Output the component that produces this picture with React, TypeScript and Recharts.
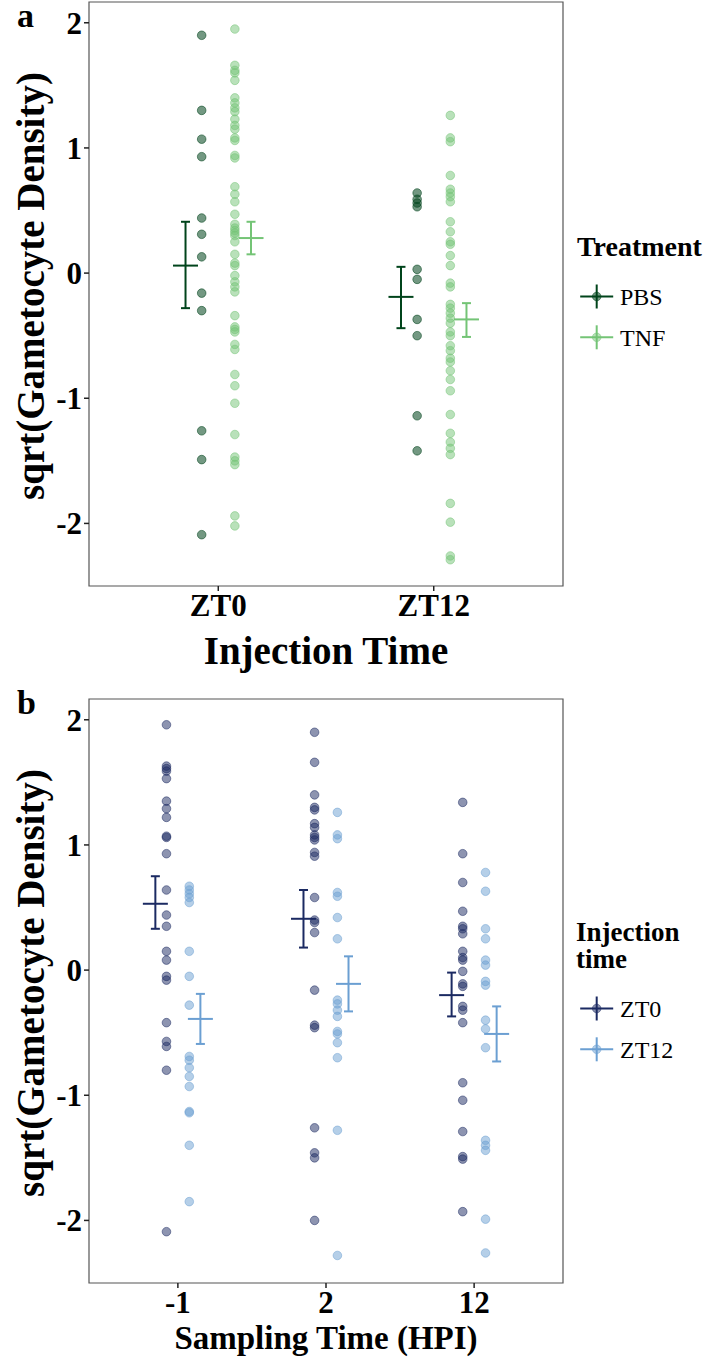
import React from 'react';
import { ScatterChart, Scatter, XAxis, YAxis, ErrorBar, ReferenceArea } from 'recharts';

const SERIF = "'Liberation Serif', 'Times New Roman', serif";

// panel a: injection time x treatment
const injectionTimes = ['ZT0', 'ZT12'];
const pbsPoints = [
  [1.9, 1.3, 1.07, 0.93, 0.44, 0.31, 0.13, -0.16, -0.3, -1.26, -1.49, -2.09],
  [0.64, 0.59, 0.56, 0.53, 0.03, -0.05, -0.37, -0.5, -1.14, -1.42],
];
const tnfPoints = [
  [1.95, 1.66, 1.62, 1.6, 1.54, 1.4, 1.36, 1.32, 1.29, 1.23, 1.18, 1.15, 1.08, 1.06, 0.94, 0.92,
    0.69, 0.63, 0.57, 0.47, 0.39, 0.36, 0.34, 0.32, 0.3, 0.25, 0.15, 0.08, 0.06, -0.02, -0.07,
    -0.11, -0.15, -0.34, -0.43, -0.45, -0.47, -0.57, -0.61, -0.81, -0.9, -1.04, -1.29, -1.47,
    -1.5, -1.53, -1.94, -2.02],
  [1.26, 1.08, 1.05, 0.78, 0.67, 0.64, 0.61, 0.57, 0.41, 0.33, 0.25, 0.23, 0.14, 0.06, -0.08,
    -0.11, -0.25, -0.28, -0.32, -0.36, -0.4, -0.47, -0.5, -0.58, -0.62, -0.68, -0.71, -0.78,
    -0.85, -0.94, -1.13, -1.28, -1.35, -1.4, -1.45, -1.84, -1.99, -2.26, -2.29],
];
const pbsMean = [0.06, -0.19];
const pbsLow = [-0.28, -0.44];
const pbsHigh = [0.41, 0.05];
const tnfMean = [0.28, -0.37];
const tnfLow = [0.15, -0.51];
const tnfHigh = [0.41, -0.24];

// panel b: sampling time x injection time
const samplingTimes = ['-1', '2', '12'];
const zt0Points = [
  [1.96, 1.63, 1.61, 1.59, 1.53, 1.35, 1.29, 1.22, 1.07, 1.06, 0.93, 0.64, 0.44, 0.35, 0.15,
    0.08, -0.05, -0.08, -0.42, -0.57, -0.61, -0.8, -2.09],
  [1.9, 1.66, 1.4, 1.3, 1.28, 1.17, 1.14, 1.08, 1.06, 1.04, 0.94, 0.91, 0.58, 0.4, 0.38, 0.3,
    -0.16, -0.44, -0.46, -1.26, -1.46, -1.5, -2.0],
  [1.34, 0.93, 0.7, 0.47, 0.35, 0.33, 0.29, 0.15, 0.1, 0.08, -0.01, -0.11, -0.13, -0.29, -0.32,
    -0.42, -0.9, -1.04, -1.29, -1.49, -1.51, -1.93],
];
const zt12Points = [
  [0.67, 0.64, 0.61, 0.58, 0.54, 0.15, -0.05, -0.28, -0.69, -0.72, -0.78, -0.85, -0.93, -1.13,
    -1.14, -1.4, -1.85],
  [1.26, 1.08, 1.05, 0.62, 0.59, 0.42, 0.25, -0.24, -0.27, -0.32, -0.37, -0.49, -0.51, -0.58,
    -0.7, -1.28, -2.28],
  [0.78, 0.63, 0.33, 0.25, 0.08, 0.04, -0.09, -0.12, -0.4, -0.47, -0.62, -1.36, -1.4, -1.44,
    -1.99, -2.26],
];
const zt0Mean = [0.53, 0.41, -0.2];
const zt0Low = [0.33, 0.18, -0.37];
const zt0High = [0.75, 0.64, -0.02];
const zt12Mean = [-0.39, -0.11, -0.51];
const zt12Low = [-0.59, -0.33, -0.73];
const zt12High = [-0.19, 0.11, -0.29];

const yTicks = [-2, -1, 0, 1, 2];
const Y_MIN = -2.5;
const Y_MAX = 2.166;
const POINT_SHIFT = 0.077;
const MEAN_SHIFT = 0.152;

const PBS = '#00441b';
const TNF = '#74c476';
const ZT0 = '#1b2a62';
const ZT12 = '#6b9fd2';

const toPoints = (groups: number[][], shift: number) =>
  groups.flatMap((vals, i) => vals.map((v) => ({ x: i + 1 + shift, y: v })));

const toMeans = (mean: number[], lo: number[], hi: number[], shift: number) =>
  mean.map((m, i) => ({ x: i + 1 + shift, y: m, err: [m - lo[i], hi[i] - m] }));

const dot = (color: string, alpha: number) => (p: any) => (
  <circle cx={p.cx} cy={p.cy} r={4.3} fill={color} fillOpacity={alpha} stroke={color} strokeOpacity={alpha} strokeWidth={1} />
);

const meanMark = (color: string) => (p: any) => (
  <line x1={p.cx - 12.5} x2={p.cx + 12.5} y1={p.cy} y2={p.cy} stroke={color} strokeWidth={2} />
);

const tickStyle = { fontSize: 31, fontWeight: 'bold', fill: '#000', fontFamily: SERIF };

interface PanelProps {
  cats: string[];
  groups: { points: number[][]; mean: number[]; lo: number[]; hi: number[]; color: string; alpha: number }[];
  xTitle: string;
  xTitleSize: number;
  height: number;
  top: number;
  xAxisHeight: number;
  xTitleOffset: number;
}

const Panel = ({ cats, groups, xTitle, xTitleSize, height, top, xAxisHeight, xTitleOffset }: PanelProps) => {
  const xMax = cats.length + 0.6;
  return (
    <ScatterChart width={708} height={height} margin={{ top, right: 145, bottom: 0, left: 0 }}>
      <ReferenceArea x1={0.4} x2={xMax} y1={Y_MIN} y2={Y_MAX} fill="none" stroke="#555" strokeWidth={1.2} ifOverflow="visible" />
      <XAxis
        type="number"
        dataKey="x"
        domain={[0.4, xMax]}
        ticks={cats.map((_, i) => i + 1)}
        tickFormatter={(v: number) => cats[v - 1]}
        allowDataOverflow
        axisLine={false}
        tickLine={{ stroke: '#222', strokeWidth: 1.5 }}
        tickSize={5}
        tickMargin={3}
        height={xAxisHeight}
        tick={tickStyle}
        label={(p: any) => (
          <text
            x={p.viewBox.x + p.viewBox.width / 2}
            y={p.viewBox.y + xTitleOffset}
            textAnchor="middle"
            style={{ fontSize: xTitleSize, fontWeight: 'bold', fontFamily: SERIF, fill: '#000' }}
          >
            {xTitle}
          </text>
        )}
      />
      <YAxis
        type="number"
        dataKey="y"
        domain={[Y_MIN, Y_MAX]}
        ticks={yTicks}
        allowDataOverflow
        axisLine={false}
        tickLine={{ stroke: '#222', strokeWidth: 1.5 }}
        tickSize={5}
        tickMargin={2}
        width={89}
        tick={tickStyle}
        label={(p: any) => {
          const cy = p.viewBox.y + p.viewBox.height / 2 - 8;
          return (
            <text
              x={30}
              y={cy}
              transform={`rotate(-90, 30, ${cy})`}
              textAnchor="middle"
              dominantBaseline="central"
              style={{ fontSize: 39, fontWeight: 'bold', fontFamily: SERIF, fill: '#000' }}
            >
              sqrt(Gametocyte Density)
            </text>
          );
        }}
      />
      {groups.map((g, k) => (
        <Scatter
          key={`pts-${k}`}
          data={toPoints(g.points, k === 0 ? -POINT_SHIFT : POINT_SHIFT)}
          shape={dot(g.color, g.alpha)}
          isAnimationActive={false}
        />
      ))}
      {groups.map((g, k) => (
        <Scatter
          key={`mean-${k}`}
          data={toMeans(g.mean, g.lo, g.hi, k === 0 ? -MEAN_SHIFT : MEAN_SHIFT)}
          shape={meanMark(g.color)}
          isAnimationActive={false}
        >
          <ErrorBar dataKey="err" direction="y" width={4.5} stroke={g.color} strokeWidth={2} isAnimationActive={false} />
        </Scatter>
      ))}
    </ScatterChart>
  );
};

const LegendKey = ({ x, y, color, alpha }: { x: number; y: number; color: string; alpha: number }) => (
  <g>
    <line x1={x - 16.5} x2={x + 16.5} y1={y} y2={y} stroke={color} strokeWidth={2} />
    <line x1={x} x2={x} y1={y - 12} y2={y + 12} stroke={color} strokeWidth={2} />
    <circle cx={x} cy={y} r={4.3} fill={color} fillOpacity={alpha} stroke={color} strokeOpacity={alpha} />
  </g>
);

export default function App() {
  return (
    <div style={{ position: 'relative', width: 708, height: 1367, background: '#fff' }}>
      <style>{'body{margin:0}'}</style>
      <div style={{ position: 'absolute', left: 0, top: 0 }}>
        <Panel
          cats={injectionTimes}
          groups={[
            { points: pbsPoints, mean: pbsMean, lo: pbsLow, hi: pbsHigh, color: PBS, alpha: 0.55 },
            { points: tnfPoints, mean: tnfMean, lo: tnfLow, hi: tnfHigh, color: TNF, alpha: 0.5 },
          ]}
          xTitle="Injection Time"
          xTitleSize={39}
          height={680}
          top={2}
          xAxisHeight={94}
          xTitleOffset={78}
        />
      </div>
      <div style={{ position: 'absolute', left: 0, top: 680 }}>
        <Panel
          cats={samplingTimes}
          groups={[
            { points: zt0Points, mean: zt0Mean, lo: zt0Low, hi: zt0High, color: ZT0, alpha: 0.5 },
            { points: zt12Points, mean: zt12Mean, lo: zt12Low, hi: zt12High, color: ZT12, alpha: 0.5 },
          ]}
          xTitle="Sampling Time (HPI)"
          xTitleSize={33}
          height={687}
          top={19}
          xAxisHeight={84}
          xTitleOffset={66}
        />
      </div>
      <svg width={708} height={1367} style={{ position: 'absolute', left: 0, top: 0, pointerEvents: 'none' }}>
        <g fontFamily={SERIF} fill="#000">
          <text x={17} y={27} fontSize={34} fontWeight="bold">a</text>
          <text x={17} y={714} fontSize={34} fontWeight="bold">b</text>

          <text x={577} y={256} fontSize={28} fontWeight="bold">Treatment</text>
          <LegendKey x={596.7} y={296.5} color={PBS} alpha={0.55} />
          <text x={620} y={305} fontSize={24}>PBS</text>
          <LegendKey x={596.7} y={337.3} color={TNF} alpha={0.5} />
          <text x={620} y={346} fontSize={24}>TNF</text>

          <text x={576} y={941} fontSize={27} fontWeight="bold">Injection</text>
          <text x={576} y={968} fontSize={27} fontWeight="bold">time</text>
          <LegendKey x={596.7} y={1008.5} color={ZT0} alpha={0.5} />
          <text x={620} y={1017} fontSize={24}>ZT0</text>
          <LegendKey x={596.7} y={1049.3} color={ZT12} alpha={0.5} />
          <text x={620} y={1058} fontSize={24}>ZT12</text>
        </g>
      </svg>
    </div>
  );
}
